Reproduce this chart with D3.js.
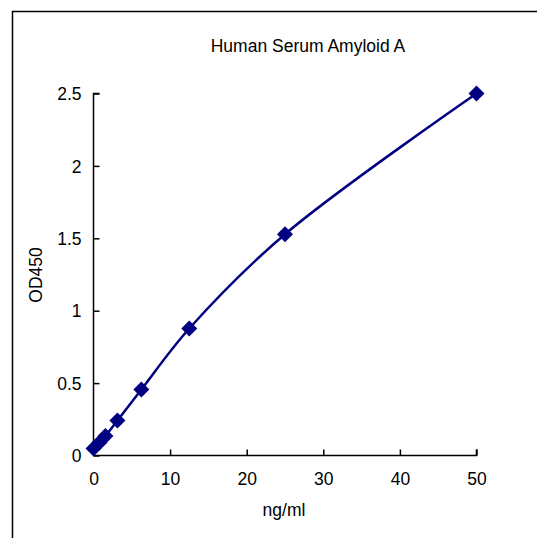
<!DOCTYPE html>
<html><head><meta charset="utf-8">
<script src="https://cdn.jsdelivr.net/npm/d3@7"></script>
<style>body{margin:0;background:#fff}svg{display:block}text{font-family:"Liberation Sans",Arial,sans-serif;fill:#000}</style>
</head><body>
<script>
const concentrations = [0, 0.78, 1.56, 3.125, 6.25, 12.5, 25, 50];
const od450 = [0.048, 0.09, 0.135, 0.242, 0.456, 0.877, 1.528, 2.5];
const xTicks = [0, 10, 20, 30, 40, 50];
const yTicks = [0, 0.5, 1, 1.5, 2, 2.5];
const title = "Human Serum Amyloid A";
const xLabel = "ng/ml";
const yLabel = "OD450";

const W = 537, H = 538;
const FS = "17.5px";
const svg = d3.select("body").append("svg").attr("width", W).attr("height", H);
svg.append("rect").attr("width", W).attr("height", H).attr("fill", "#fff");
svg.append("path").attr("d", `M12.5,${H} V11.5 H${W}`).attr("fill", "none").attr("stroke", "#000").attr("stroke-width", 1.5);

const x = d3.scaleLinear().domain([0, 50]).range([93.5, 476.5]);
const y = d3.scaleLinear().domain([0, 2.5]).range([455.5, 93.5]);

const xAxis = svg.append("g").attr("transform", `translate(0,${y(0)})`)
  .call(d3.axisTop(x).tickValues(xTicks).tickSize(6).tickFormat(d3.format("d")));
xAxis.select(".domain").attr("d", `M${x(0)},0H${x(50)}V-6`).attr("stroke-width", 1.5);
xAxis.selectAll(".tick line").attr("stroke-width", 1.5);
xAxis.selectAll(".tick text").attr("y", 23).attr("dy", "0.35em").style("font-size", FS).style("font-family", "Liberation Sans, Arial");

const yAxis = svg.append("g").attr("transform", `translate(${x(0)},0)`)
  .call(d3.axisRight(y).tickValues(yTicks).tickSize(6).tickFormat(d => d3.format("")(d)));
yAxis.select(".domain").attr("d", `M6,${y(2.5)}H0V${y(0)}`).attr("stroke-width", 1.5);
yAxis.selectAll(".tick line").attr("stroke-width", 1.5);
yAxis.selectAll(".tick text").attr("x", -12).attr("text-anchor", "end").attr("dy", "0.35em").style("font-size", FS).style("font-family", "Liberation Sans, Arial");

const pts = concentrations.map((c, i) => [c, od450[i]]);
const line = d3.line().x(d => x(d[0])).y(d => y(d[1])).curve(d3.curveCatmullRom.alpha(0.5));
svg.append("path").datum(pts).attr("d", line).attr("fill", "none").attr("stroke", "#000080").attr("stroke-width", 2.5);

svg.selectAll(".pt").data(pts).enter().append("path")
  .attr("transform", d => `translate(${x(d[0])},${y(d[1])})`)
  .attr("d", "M0,-8L8,0L0,8L-8,0Z").attr("fill", "#000080");

svg.append("text").attr("x", 308).attr("y", 52).attr("text-anchor", "middle").style("font-size", FS).text(title);
svg.append("text").attr("x", 284).attr("y", 516).attr("text-anchor", "middle").style("font-size", FS).text(xLabel);
svg.append("text").attr("transform", "translate(42,275) rotate(-90)").attr("text-anchor", "middle").style("font-size", FS).text(yLabel);
</script>
</body></html>
